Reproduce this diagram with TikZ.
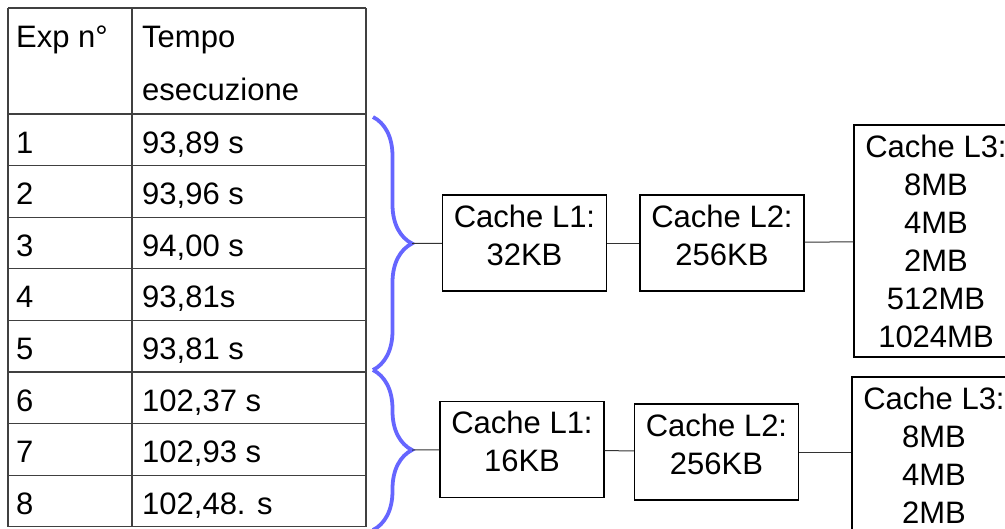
\documentclass[tikz,border=0pt]{standalone}
\usepackage{fontspec}
\setmainfont{Liberation Sans}
\usetikzlibrary{
  positioning,
  decorations.pathreplacing, % Style "brace"
}
\definecolor{braceblue}{RGB}{102,102,255}
\def\myrowh{51.6}
\def\mytop{114}
\tikzset{
  semithick,
  my grid/.style={
    draw=black!75,
    line width=1.2pt
  },
  my cell/.style={
    anchor=base west,
    inner sep=0mm
  },
  my box/.style={
    draw,
    line width=1.2pt,
    align=center,
    inner sep=0mm,
    minimum width=164pt,
    minimum height=96pt,
    text depth=16pt, % Text sits near the top
    rectangle
  },
  my big box/.style={
    my box,
    minimum height=232pt,
    text depth=0pt
  },
  my link/.style={
    draw=black!80,
    line width=1pt
  },
  my brace/.style={
    draw=braceblue,
    line width=3.8pt,
    decorate,
    decoration={brace,amplitude=39pt}
  }
}

\begin{document}
\begin{tikzpicture}[x=1pt,y=-1pt,font=\fontsize{31}{38}\selectfont]
\useasboundingbox (0,0) rectangle (1005,528);
\clip (0,0) rectangle (1005,528);

% Table
\foreach \yy in {8,114,165.6,217.2,268.8,320.4,372,423.6,475.2,526.8}
  \draw[my grid] (8,\yy) -- (366,\yy);
\foreach \xx in {8,132,366}
  \draw[my grid] (\xx,8) -- (\xx,527);
\node[my cell] (hexp)  at (16,47)  {Exp n°};
\node[my cell] (htime) at (142,47) {Tempo};
\node[my cell] (htime2) at (142,100) {esecuzione};
\foreach \t [count=\n] in {{93,89 s},{93,96 s},{94,00 s},{93,81s},
                            {93,81 s},{102,37 s},{102,93 s},{102,48. s}}{
  \node[my cell] (exp\n)  at (16,\mytop+\n*\myrowh-\myrowh+39)  {\n};
  \node[my cell] (time\n) at (142,\mytop+\n*\myrowh-\myrowh+39) {\t};
}

% Braces
\draw[my brace] (373,117) -- (373,370);
\coordinate (tip1) at (412,243.5);
\draw[my brace] (373,370) -- (373,530);
\coordinate (tip2) at (412,450);

% First configuration
\node[my box] (l1a) at (524.5,243) {Cache L1:\\32KB};
\node[my box] (l2a) at (722,243)   {Cache L2:\\256KB};
\node[my big box] (l3a) at (936,241) {Cache L3:\\8MB\\4MB\\2MB\\512MB\\1024MB};
\draw[my link] (tip1) -- (l1a);
\draw[my link] (l1a) -- (l2a);
\draw[my link] (l2a) -- (l3a);

% Second configuration
\node[my box] (l1b) at (522,449.5)  {Cache L1:\\16KB};
\node[my box] (l2b) at (716.5,452)  {Cache L2:\\256KB};
\node[my big box] (l3b) at (934,493) {Cache L3:\\8MB\\4MB\\2MB\\512MB\\1024MB};
\draw[my link] (tip2) -- (l1b);
\draw[my link] (l1b) -- (l2b);
\draw[my link] (l2b.east) -- (l2b.east -| l3b.west);
\end{tikzpicture}
\end{document}
